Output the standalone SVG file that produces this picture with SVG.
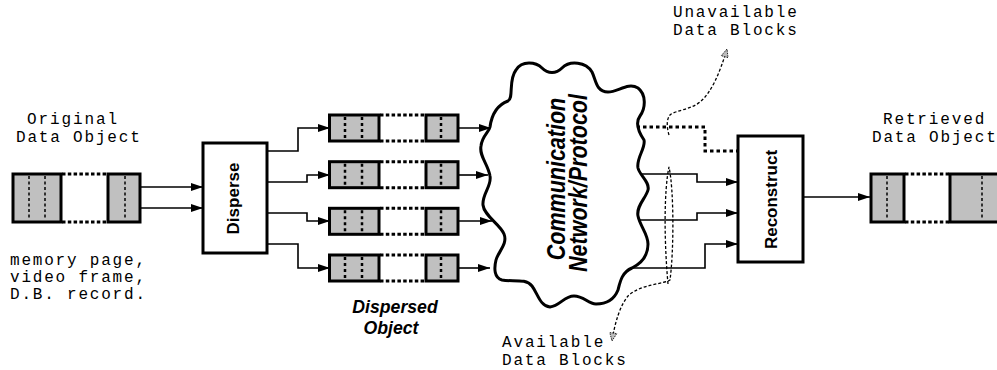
<svg xmlns="http://www.w3.org/2000/svg" width="997" height="370" viewBox="0 0 997 370">
  <style>
    .mono { font-family: "Liberation Mono", "Courier New", monospace; font-size: 16px; fill: #000; }
    .bold { font-family: "Liberation Sans", Arial, sans-serif; font-weight: bold; fill: #000; }
    .bi { font-family: "Liberation Sans", Arial, sans-serif; font-weight: bold; font-style: italic; fill: #000; }
    .blk { fill: #c0c0c0; stroke: #000; stroke-width: 3; }
    .sep { stroke: #000; stroke-width: 1.5; stroke-dasharray: 3 2.5; fill: none; }
    .sep2 { stroke: #000; stroke-width: 2.5; stroke-dasharray: 3 3; fill: none; }
    .gap { stroke: #000; stroke-width: 3; stroke-dasharray: 3.5 2.3; fill: none; }
    .box { fill: #fff; stroke: #000; stroke-width: 3; }
    .wire { fill: none; stroke: #000; stroke-width: 1.6; }
    .lost { fill: none; stroke: #000; stroke-width: 3; stroke-dasharray: 3.5 3; }
    .hint { fill: none; stroke: #000; stroke-width: 1.3; stroke-dasharray: 3 2; }
  </style>
  <defs>
    <marker id="arrow" markerUnits="userSpaceOnUse" markerWidth="12" markerHeight="8" refX="12" refY="4" orient="auto">
      <path d="M0,0 L12,4 L0,8 z" fill="#000"/>
    </marker>
    <marker id="ptr" markerUnits="userSpaceOnUse" markerWidth="11" markerHeight="9" refX="9" refY="4.5" orient="auto">
      <path d="M1,1 L9,4.5 L1,8 z" fill="#bbb" stroke="#222" stroke-width="0.9" stroke-dasharray="1.5 1"/>
    </marker>
  </defs>

  <!-- connectors -->
  <g id="connectors">
    <path class="wire" marker-end="url(#arrow)" d="M140,187 H203"/>
    <path class="wire" marker-end="url(#arrow)" d="M140,208 H203"/>

    <path class="wire" marker-end="url(#arrow)" d="M267,151 H298 V128 H330"/>
    <path class="wire" marker-end="url(#arrow)" d="M267,182 H307 V175 H330"/>
    <path class="wire" marker-end="url(#arrow)" d="M267,213 H307 V221 H330"/>
    <path class="wire" marker-end="url(#arrow)" d="M267,244 H298 V268 H330"/>

    <path class="wire" marker-end="url(#arrow)" d="M458,128 H491"/>
    <path class="wire" marker-end="url(#arrow)" d="M458,175 H488"/>
    <path class="wire" marker-end="url(#arrow)" d="M458,221 H492"/>
    <path class="wire" marker-end="url(#arrow)" d="M458,268 H490"/>

    <path class="wire" marker-end="url(#arrow)" d="M630,174 H697 V182 H738"/>
    <path class="wire" marker-end="url(#arrow)" d="M630,220 H697 V213 H738"/>
    <path class="wire" marker-end="url(#arrow)" d="M620,268 H705 V244 H738"/>
    <path class="lost" d="M630,127 H705 V151 H738"/>

    <path class="wire" marker-end="url(#arrow)" d="M803,197 H870"/>

    <!-- pointers to the block labels -->
    <path class="hint" marker-end="url(#ptr)" d="M669,135 C667,128 666,120 670,115 C676,110 690,110 700,102 C712,92 720,72 727,49"/>
    <path class="hint" marker-end="url(#ptr)" d="M668,284 C664,240 664,190 669,167 C674,190 674,250 670,280 C665,284 640,284 628,296 C620,306 615,322 612,341"/>
  </g>

  <!-- original data object -->
  <g id="original">
    <text class="mono" x="27" y="124" textLength="90">Original</text>
    <text class="mono" x="16" y="142" textLength="123.75">Data Object</text>
    <rect class="blk" x="13" y="174" width="48" height="48"/>
    <line class="sep" x1="29" y1="176" x2="29" y2="220"/>
    <line class="sep" x1="45" y1="176" x2="45" y2="220"/>
    <line class="gap" x1="62" y1="174" x2="107" y2="174"/>
    <line class="gap" x1="62" y1="222" x2="107" y2="222"/>
    <rect class="blk" x="108" y="174" width="32" height="48"/>
    <line class="sep" x1="125" y1="176" x2="125" y2="220"/>
    <text class="mono" x="10" y="265" textLength="135">memory page,</text>
    <text class="mono" x="10" y="282" textLength="135">video frame,</text>
    <text class="mono" x="10" y="299" textLength="135">D.B. record.</text>
  </g>

  <!-- disperse -->
  <g id="disperse">
    <rect class="box" x="203" y="143" width="64" height="110"/>
    <text class="bold" font-size="17" text-anchor="middle" transform="translate(239,198.5) rotate(-90)">Disperse</text>
  </g>

  <!-- dispersed object -->
  <g id="dispersed">
    <g id="row1" transform="translate(0,115)">
      <rect class="blk" x="329.5" y="0" width="49.5" height="26"/>
      <line class="sep2" x1="345" y1="2" x2="345" y2="24"/>
      <line class="sep2" x1="362" y1="2" x2="362" y2="24"/>
      <line class="gap" x1="380" y1="0" x2="425" y2="0"/>
      <line class="gap" x1="380" y1="26" x2="425" y2="26"/>
      <rect class="blk" x="426" y="0" width="32" height="26"/>
      <line class="sep2" x1="441" y1="2" x2="441" y2="24"/>
    </g>
    <g id="row2" transform="translate(0,161.7)">
      <rect class="blk" x="329.5" y="0" width="49.5" height="26"/>
      <line class="sep2" x1="345" y1="2" x2="345" y2="24"/>
      <line class="sep2" x1="362" y1="2" x2="362" y2="24"/>
      <line class="gap" x1="380" y1="0" x2="425" y2="0"/>
      <line class="gap" x1="380" y1="26" x2="425" y2="26"/>
      <rect class="blk" x="426" y="0" width="32" height="26"/>
      <line class="sep2" x1="441" y1="2" x2="441" y2="24"/>
    </g>
    <g id="row3" transform="translate(0,208.3)">
      <rect class="blk" x="329.5" y="0" width="49.5" height="26"/>
      <line class="sep2" x1="345" y1="2" x2="345" y2="24"/>
      <line class="sep2" x1="362" y1="2" x2="362" y2="24"/>
      <line class="gap" x1="380" y1="0" x2="425" y2="0"/>
      <line class="gap" x1="380" y1="26" x2="425" y2="26"/>
      <rect class="blk" x="426" y="0" width="32" height="26"/>
      <line class="sep2" x1="441" y1="2" x2="441" y2="24"/>
    </g>
    <g id="row4" transform="translate(0,255)">
      <rect class="blk" x="329.5" y="0" width="49.5" height="26"/>
      <line class="sep2" x1="345" y1="2" x2="345" y2="24"/>
      <line class="sep2" x1="362" y1="2" x2="362" y2="24"/>
      <line class="gap" x1="380" y1="0" x2="425" y2="0"/>
      <line class="gap" x1="380" y1="26" x2="425" y2="26"/>
      <rect class="blk" x="426" y="0" width="32" height="26"/>
      <line class="sep2" x1="441" y1="2" x2="441" y2="24"/>
    </g>
    <!-- narrow bold-oblique caption -->
    <text class="bi" font-size="19" text-anchor="middle" transform="translate(395,313) scale(0.93,1)">Dispersed</text>
    <text class="bi" font-size="19" text-anchor="middle" transform="translate(391,334) scale(0.93,1)">Object</text>
  </g>

  <!-- network cloud -->
  <g id="network">
    <path fill="#fff" stroke="#000" stroke-width="3" stroke-linejoin="round"
      d="M490,127
         C492,112 500,104 508,101
         C514,98 508,80 516,70
         C522,60 536,62 542,68
         C548,74 556,74 562,68
         C570,60 586,62 592,72
         C596,80 596,92 608,92
         C618,92 628,82 638,88
         C646,94 646,108 640,116
         C634,124 640,134 644,140
         C646,148 636,158 638,168
         C640,176 650,182 648,190
         C646,198 636,206 638,216
         C640,226 648,234 648,244
         C648,254 644,262 632,268
         C622,272 620,282 618,290
         C614,300 606,304 596,304
         C588,304 584,296 574,296
         C564,296 560,306 550,307
         C540,306 538,294 532,286
         C526,278 512,282 502,280
         C494,278 494,268 496,260
         C498,252 508,244 504,234
         C500,224 484,216 483,205
         C482,194 492,186 490,176
         C488,164 479,156 481,146
         C482,136 489,132 490,127 Z"/>
    <text class="bi" font-size="25" text-anchor="middle" transform="translate(565,179) rotate(-90) scale(0.86,1)">Communication</text>
    <text class="bi" font-size="25" text-anchor="middle" transform="translate(587,183) rotate(-90) scale(0.86,1)">Network/Protocol</text>
  </g>

  <!-- labels for data blocks -->
  <g id="unavailable-label">
    <text class="mono" x="673" y="17" textLength="123.75">Unavailable</text>
    <text class="mono" x="673" y="35" textLength="123.75">Data Blocks</text>
  </g>
  <g id="available-label">
    <text class="mono" x="502" y="347" textLength="101.25">Available</text>
    <text class="mono" x="502" y="365" textLength="123.75">Data Blocks</text>
  </g>

  <!-- reconstruct -->
  <g id="reconstruct">
    <rect class="box" x="738" y="136" width="65" height="126"/>
    <text class="bold" font-size="17" text-anchor="middle" transform="translate(777,199.5) rotate(-90)">Reconstruct</text>
  </g>

  <!-- retrieved data object -->
  <g id="retrieved">
    <text class="mono" x="883" y="124" textLength="101.25">Retrieved</text>
    <text class="mono" x="872" y="142" textLength="123.75">Data Object</text>
    <rect class="blk" x="871" y="174" width="33" height="48"/>
    <line class="sep" x1="887" y1="176" x2="887" y2="220"/>
    <line class="gap" x1="905" y1="174" x2="949" y2="174"/>
    <line class="gap" x1="905" y1="222" x2="949" y2="222"/>
    <rect class="blk" x="950" y="174" width="50" height="48"/>
    <line class="sep" x1="982" y1="176" x2="982" y2="220"/>
  </g>
</svg>
